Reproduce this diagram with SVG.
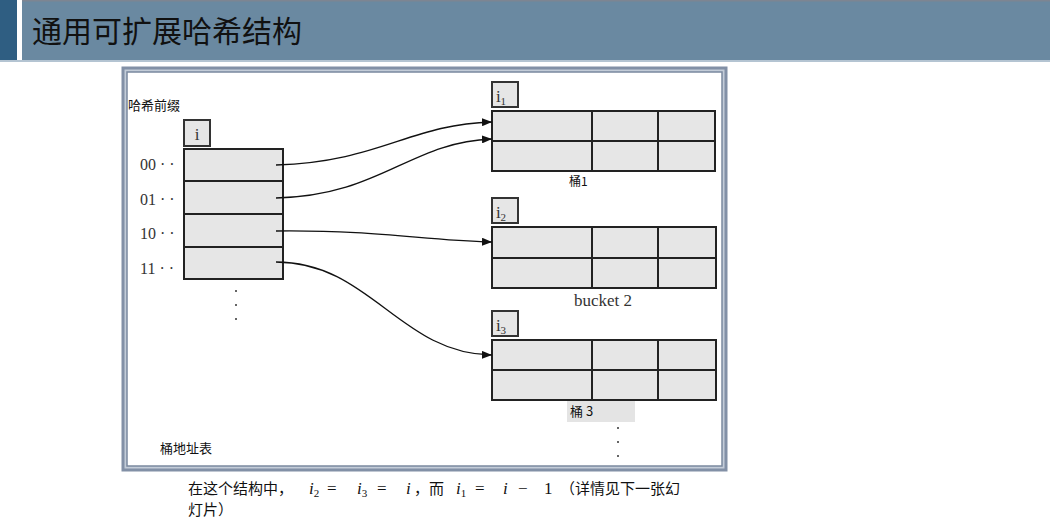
<svg xmlns="http://www.w3.org/2000/svg" width="1050" height="518" viewBox="0 0 1050 518">
<defs>
<style>
.cjk{font-family:"Noto Sans CJK SC","Noto Sans",sans-serif;fill:#111}
.ser{font-family:"Liberation Serif","DejaVu Serif",serif;fill:#333}
.math{font-family:"Liberation Serif","DejaVu Serif",serif;fill:#111;font-style:italic}
.mathr{font-family:"Liberation Serif","DejaVu Serif",serif;fill:#111}
.cell{fill:#e6e6e6;stroke:#222;stroke-width:2}
.tag{fill:#e6e6e6;stroke:#333;stroke-width:2}
.grid{stroke:#222;stroke-width:2;fill:none}
.conn{fill:none;stroke:#111;stroke-width:1.3}
</style>
<marker id="arr" viewBox="0 0 10 8" refX="10" refY="4" markerWidth="10" markerHeight="8" markerUnits="userSpaceOnUse" orient="auto">
<path d="M0,0 L10,4 L0,8 Z" fill="#111"/>
</marker>
</defs>
<rect width="1050" height="518" fill="#ffffff"/>
<g id="header">
<rect x="0" y="0" width="17" height="61" fill="#2f5e82"/>
<rect x="22" y="0" width="1028" height="61" fill="#6a89a1"/>
<rect x="22" y="0" width="1028" height="1.5" fill="#7d8592"/>
<rect x="0" y="60" width="1050" height="2" fill="#b4c4d2"/>
<text x="32" y="42" class="cjk" font-size="30">通用可扩展哈希结构</text>
</g>
<g id="frame">
<rect x="123" y="68" width="603" height="402" fill="#c3ccd8" stroke="#8290a6" stroke-width="3"/>
<rect x="127" y="72" width="595" height="394" fill="#ffffff" stroke="#7a889e" stroke-width="1.5"/>
</g>
<g id="labels">
<text x="128" y="110" class="cjk" font-size="13">哈希前缀</text>
<text x="160" y="453" class="cjk" font-size="13">桶地址表</text>
</g>
<g id="directory">
<rect x="184" y="120" width="26" height="26" class="tag"/>
<text x="197" y="140" class="ser" font-size="17" text-anchor="middle">i</text>
<rect x="184" y="149" width="99" height="130" class="cell"/>
<line x1="184" y1="181" x2="283" y2="181" class="grid"/>
<line x1="184" y1="214" x2="283" y2="214" class="grid"/>
<line x1="184" y1="247" x2="283" y2="247" class="grid"/>
<text x="140" y="170" class="ser" font-size="16">00 · ·</text>
<text x="140" y="205" class="ser" font-size="16">01 · ·</text>
<text x="140" y="239" class="ser" font-size="16">10 · ·</text>
<text x="140" y="274" class="ser" font-size="16">11 · ·</text>
<circle cx="236" cy="291" r="1" fill="#333"/>
<circle cx="236" cy="305" r="1" fill="#333"/>
<circle cx="236" cy="319" r="1" fill="#333"/>
</g>
<g id="bucket1">
<rect x="492" y="82" width="26" height="25" class="tag"/>
<text x="501" y="102" class="ser" font-size="17" text-anchor="middle">i<tspan font-size="11" dy="3">1</tspan></text>
<rect x="492" y="111" width="223" height="60" class="cell"/>
<line x1="492" y1="141" x2="715" y2="141" class="grid"/>
<line x1="592" y1="111" x2="592" y2="171" class="grid"/>
<line x1="658" y1="111" x2="658" y2="171" class="grid"/>
<text x="569" y="186" class="cjk" font-size="12">桶1</text>
</g>
<g id="bucket2">
<rect x="492" y="198" width="26" height="25" class="tag"/>
<text x="501" y="218" class="ser" font-size="17" text-anchor="middle">i<tspan font-size="11" dy="3">2</tspan></text>
<rect x="492" y="227" width="224" height="61" class="cell"/>
<line x1="492" y1="258" x2="716" y2="258" class="grid"/>
<line x1="592" y1="227" x2="592" y2="288" class="grid"/>
<line x1="658" y1="227" x2="658" y2="288" class="grid"/>
<text x="603" y="306" class="ser" font-size="17" text-anchor="middle">bucket 2</text>
</g>
<g id="bucket3">
<rect x="492" y="311" width="26" height="25" class="tag"/>
<text x="501" y="331" class="ser" font-size="17" text-anchor="middle">i<tspan font-size="11" dy="3">3</tspan></text>
<rect x="492" y="340" width="224" height="60" class="cell"/>
<line x1="492" y1="370" x2="716" y2="370" class="grid"/>
<line x1="592" y1="340" x2="592" y2="400" class="grid"/>
<line x1="658" y1="340" x2="658" y2="400" class="grid"/>
<rect x="567" y="401" width="68" height="21" fill="#e4e4e4"/>
<text x="570" y="416" class="cjk" font-size="13">桶 3</text>
<circle cx="618" cy="428" r="1" fill="#333"/>
<circle cx="618" cy="442" r="1" fill="#333"/>
<circle cx="618" cy="456" r="1" fill="#333"/>
</g>
<g id="connectors">
<path d="M276,165 C380,162 410,124 492,122" class="conn" marker-end="url(#arr)"/>
<path d="M276,198 C380,196 410,142 492,139" class="conn" marker-end="url(#arr)"/>
<path d="M276,231 C380,230 420,240 492,242" class="conn" marker-end="url(#arr)"/>
<path d="M276,262 C370,262 400,354 492,355" class="conn" marker-end="url(#arr)"/>
</g>
<g id="caption">
<text x="188" y="494" class="cjk" font-size="15">在这个结构中，</text>
<text x="309" y="494" class="math" font-size="17">i<tspan font-size="11" dy="3" font-style="normal">2</tspan></text>
<text x="327" y="494" class="mathr" font-size="17">=</text>
<text x="357" y="494" class="math" font-size="17">i<tspan font-size="11" dy="3" font-style="normal">3</tspan></text>
<text x="377" y="494" class="mathr" font-size="17">=</text>
<text x="406" y="494" class="math" font-size="17">i</text>
<text x="414" y="494" class="cjk" font-size="15">，而</text>
<text x="456" y="494" class="math" font-size="17">i<tspan font-size="11" dy="3" font-style="normal">1</tspan></text>
<text x="475" y="494" class="mathr" font-size="17">=</text>
<text x="503" y="494" class="math" font-size="17">i</text>
<text x="518" y="494" class="mathr" font-size="17">−</text>
<text x="544" y="494" class="mathr" font-size="17">1</text>
<text x="560" y="494" class="cjk" font-size="15">（详情见下一张幻</text>
<text x="188" y="515" class="cjk" font-size="15">灯片）</text>
</g>
</svg>
